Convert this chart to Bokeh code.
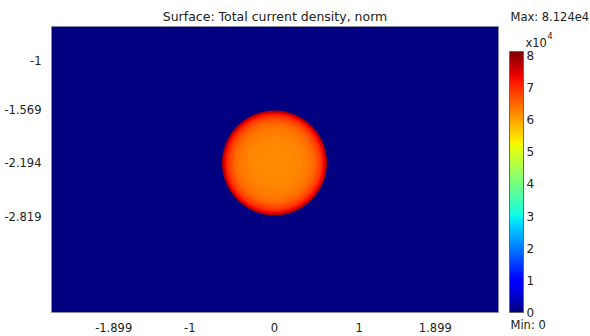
from bokeh.plotting import figure
from bokeh.layouts import row
from bokeh.models import (Range1d, FixedTicker, LinearColorMapper, ColorBar, Label, Title,
                          ColumnDataSource)
from bokeh.embed import file_html
from bokeh.resources import INLINE

# ---- data ----
x_ticks = [-1.899, -1, 0, 1, 1.899]
x_tick_labels = ["-1.899", "-1", "0", "1", "1.899"]
y_ticks = [-1, -1.569, -2.194, -2.819]
y_tick_labels = ["-1", "-1.569", "-2.194", "-2.819"]
x_lim = [-2.633, 2.645]
y_lim = [-3.937, -0.604]
circle_x = 0.0
circle_y = -2.194
# concentric rings of the conductor, outer -> inner (radius, |J| in 1e4 A/m^2)
ring_radii = [0.62, 0.607, 0.594, 0.58, 0.563, 0.545, 0.523, 0.497, 0.467, 0.43, 0.385, 0.32, 0.22]
ring_values = [7.85, 7.6, 7.38, 7.18, 7.0, 6.85, 6.7, 6.56, 6.45, 6.36, 6.29, 6.24, 6.21]
field_min = 0.0
field_max = 8.124
cbar_ticks = [0, 1, 2, 3, 4, 5, 6, 7, 8]
max_text = "Max: 8.124e4"
min_text = "Min: 0"

# ---- jet palette ----
def _seg(t, pts):
    for (a, va), (b, vb) in zip(pts[:-1], pts[1:]):
        if a <= t <= b:
            return va + (vb - va) * (t - a) / (b - a) if b > a else vb
    return pts[-1][1]

jet = []
for i in range(256):
    t = i / 255
    r = _seg(t, [(0, 0), (0.35, 0), (0.66, 1), (0.89, 1), (1, 0.5)])
    g = _seg(t, [(0, 0), (0.125, 0), (0.375, 1), (0.64, 1), (0.91, 0), (1, 0)])
    b = _seg(t, [(0, 0.5), (0.11, 1), (0.34, 1), (0.65, 0), (1, 0)])
    jet.append("#%02x%02x%02x" % (round(r * 255), round(g * 255), round(b * 255)))

mapper = LinearColorMapper(palette=jet, low=field_min, high=field_max)

FONT = "DejaVu Sans"
FS = "11.5px"
TC = "#222222"

# ---- main field plot ----
p = figure(width=500, height=336, output_backend="svg", toolbar_location=None,
           x_range=Range1d(*x_lim), y_range=Range1d(*y_lim),
           min_border_left=51, min_border_top=26, min_border_bottom=24, min_border_right=2,
           title="Surface: Total current density, norm")
p.background_fill_color = jet[0]
p.border_fill_color = "white"
p.outline_line_color = "#8a8aa8"
p.grid.visible = False
p.title.align = "center"
p.title.text_font = FONT
p.title.text_font_size = "12.5px"
p.title.text_font_style = "normal"
p.title.text_color = TC
p.title.offset = 0
p.title.standoff = 5

for ax, ticks, labels in ((p.xaxis[0], x_ticks, x_tick_labels), (p.yaxis[0], y_ticks, y_tick_labels)):
    ax.ticker = FixedTicker(ticks=ticks)
    ax.major_label_overrides = {t: l for t, l in zip(ticks, labels)}
    ax.axis_line_color = None
    ax.major_tick_line_color = None
    ax.minor_tick_line_color = None
    ax.major_label_text_font = FONT
    ax.major_label_text_font_size = FS
    ax.major_label_text_color = TC
p.xaxis.major_label_standoff = 4
p.yaxis.major_label_standoff = 4

src = ColumnDataSource(dict(x=[circle_x] * len(ring_radii), y=[circle_y] * len(ring_radii),
                            r=ring_radii, v=ring_values))
p.circle(x="x", y="y", radius="r", source=src,
         fill_color={"field": "v", "transform": mapper}, line_color=None)

# ---- colour bar panel ----
c = figure(width=90, height=336, output_backend="svg", toolbar_location=None,
           x_range=Range1d(0, 90), y_range=Range1d(0, 336),
           x_axis_location=None, y_axis_location=None,
           min_border=0, min_border_left=0, min_border_right=0,
           min_border_top=26, min_border_bottom=24)
c.grid.visible = False
c.outline_line_color = None
c.background_fill_color = "white"
c.border_fill_color = "white"

c.add_layout(Title(text=max_text, align="left", offset=10, standoff=6,
                   text_font=FONT, text_font_size=FS, text_font_style="normal",
                   text_color=TC), "above")
c.add_layout(Title(text=min_text, align="left", offset=10, standoff=6,
                   text_font=FONT, text_font_size=FS, text_font_style="normal",
                   text_color=TC), "below")

cb = ColorBar(color_mapper=mapper, ticker=FixedTicker(ticks=cbar_ticks),
              width=14, height=261, padding=0, margin=0, location=(9, 0),
              label_standoff=3, major_tick_line_color=None, minor_tick_line_color=None,
              bar_line_color="#666677", background_fill_color=None, border_line_color=None,
              major_label_text_font=FONT, major_label_text_font_size="12px",
              major_label_text_color=TC)
c.add_layout(cb, "center")

for txt, x, y, fs in (("x10", 25, 270, FS), ("4", 47, 277, "8px")):
    c.add_layout(Label(x=x, y=y, x_units="screen", y_units="screen", text=txt,
                       text_font=FONT, text_font_size=fs, text_color=TC,
                       text_baseline="middle", text_align="left"))

layout = row(p, c, spacing=0)
open("out.html", "w").write(file_html(layout, INLINE))
